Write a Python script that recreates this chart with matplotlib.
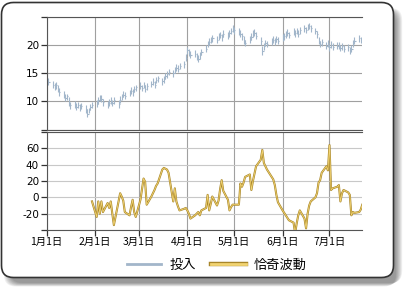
import matplotlib
matplotlib.use("Agg")
import matplotlib.pyplot as plt
import matplotlib.dates as mdates
from matplotlib.patches import FancyBboxPatch
from matplotlib.lines import Line2D
import matplotlib.patheffects as pe
import numpy as np
import pandas as pd

plt.rcParams['font.family'] = ['DejaVu Sans', 'Noto Sans CJK JP']

# daily bars, Jan 1 - Jul 22 (business days)
close = [13.8, 13.4, 13.0, 12.6, 12.9, 12.2, 11.6, 11.2, 10.6, 10.9, 9.8, 9.3, 9.5, 9.0, 9.4, 8.9, 9.2, 8.6, 7.8, 8.4, 9.0, 9.3,
         9.6, 10.2, 10.7, 10.5, 9.9, 9.4, 9.8, 10.1, 9.7, 10.2, 9.5, 10.3, 10.8, 11.2, 11.0, 11.5, 11.9, 11.6, 12.2, 12.5,
         12.8, 12.4, 12.9, 12.2, 12.7, 13.1, 13.5, 13.0, 13.8, 14.1, 13.6, 13.9, 14.5, 14.8, 15.3, 15.0, 15.6, 16.0, 15.8, 16.3,
         16.6, 17.8, 19.1, 18.6, 18.3, 18.5, 18.0, 17.6, 18.2, 18.8, 19.4, 20.2, 20.6, 20.9, 21.2, 21.0, 21.5, 21.8, 21.4, 22.0,
         21.7, 22.1, 22.5, 23.0, 22.6, 22.4, 22.0, 21.6, 20.9, 20.4, 21.0, 21.5, 22.0, 22.2, 21.7, 20.8, 19.0, 19.8, 20.4, 20.2,
         20.7, 21.0, 20.6, 21.1, 20.8, 21.3, 21.6, 21.9, 22.2, 21.8, 22.4, 22.1, 22.5, 22.0, 22.6, 23.0, 22.7, 23.2, 23.4, 23.0,
         22.5, 21.9, 20.8, 20.2, 20.5, 19.9, 20.3, 19.6, 20.1, 19.7, 19.9, 20.0, 19.5, 19.8, 19.4, 19.6, 19.0, 19.4, 20.3, 20.8,
         21.2, 20.9, 20.4]
high = [14.4, 14.1, 13.6, 13.3, 13.4, 12.9, 12.3, 11.8, 11.3, 11.4, 10.7, 9.9, 10.1, 9.7, 9.9, 9.6, 9.8, 9.3, 8.7, 8.9, 9.6, 9.9,
        10.2, 10.8, 11.2, 11.1, 10.5, 10.0, 10.4, 10.8, 10.3, 10.7, 10.2, 10.9, 11.3, 11.8, 11.6, 12.0, 12.5, 12.2, 12.8, 13.0,
        13.4, 13.0, 13.5, 12.9, 13.3, 13.7, 14.1, 13.7, 14.4, 14.6, 14.2, 14.5, 15.1, 15.4, 15.8, 15.6, 16.2, 16.6, 16.4, 16.9,
        17.2, 18.5, 19.7, 19.3, 18.9, 19.1, 18.6, 18.3, 18.8, 19.4, 20.0, 20.8, 21.2, 21.5, 21.8, 21.6, 22.1, 22.4, 22.0, 22.6,
        22.3, 22.7, 23.1, 23.6, 23.2, 23.0, 22.7, 22.2, 21.6, 21.0, 21.6, 22.1, 22.6, 22.8, 22.3, 21.5, 19.8, 20.4, 21.0, 20.8,
        21.3, 21.6, 21.2, 21.7, 21.4, 21.9, 22.2, 22.5, 22.8, 22.4, 23.0, 22.7, 23.1, 22.6, 23.2, 23.6, 23.3, 23.8, 24.0, 23.6,
        23.1, 22.5, 21.5, 20.8, 21.1, 20.5, 20.9, 20.2, 20.7, 20.3, 20.5, 20.6, 20.1, 20.4, 20.0, 20.2, 19.6, 20.0, 20.9, 21.4,
        21.8, 21.5, 21.0]
low = [13.3, 12.9, 12.4, 12.1, 12.2, 11.6, 11.0, 10.6, 10.1, 10.2, 9.2, 8.7, 8.9, 8.5, 8.8, 8.3, 8.6, 8.0, 7.2, 7.9, 8.4, 8.8,
       9.0, 9.6, 10.1, 9.9, 9.2, 8.8, 9.2, 9.5, 9.1, 9.6, 8.9, 9.7, 10.2, 10.7, 10.4, 10.9, 11.3, 11.0, 11.6, 11.9,
       12.2, 11.8, 12.3, 11.6, 12.1, 12.5, 12.9, 12.4, 13.2, 13.5, 13.0, 13.3, 13.9, 14.2, 14.7, 14.4, 15.0, 15.4, 15.2, 15.7,
       16.0, 17.2, 18.5, 18.0, 17.7, 17.9, 17.4, 17.0, 17.6, 18.2, 18.8, 19.6, 20.0, 20.3, 20.6, 20.4, 20.9, 21.2, 20.8, 21.4,
       21.1, 21.5, 21.9, 22.4, 22.0, 21.8, 21.4, 21.0, 20.2, 19.8, 20.4, 20.9, 21.4, 21.6, 21.1, 20.1, 18.3, 19.2, 19.8, 19.6,
       20.1, 20.4, 20.0, 20.5, 20.2, 20.7, 21.0, 21.3, 21.6, 21.2, 21.8, 21.5, 21.9, 21.4, 22.0, 22.4, 22.1, 22.6, 22.8, 22.4,
       21.9, 21.3, 20.2, 19.6, 19.9, 19.3, 19.7, 19.0, 19.5, 19.1, 19.3, 19.4, 18.9, 19.2, 18.8, 19.0, 18.4, 18.8, 19.7, 20.2,
       20.6, 20.3, 19.8]

# Chaikin oscillator, starts Jan 30
chaikin = [-5,
           -24, -5, -20, -5, -18, -7, -13, -5, -20, -34, -5, 5, 1, -4, -18, -22, -12, -3, -18, -24,
           -3, 10, 23, 19, -9, 1, 5, 9, 14, 17, 34, 36, 35, 34, 30, -5, 11, -5, -11, -16, -14, -13, -16,
           -20, -26, -22, -20, -18, -22, -16, -13, 3, -16, -8, 1, -10, -4, 10, 21, 8, -3, -16, -12, -9, -9,
           -9, 17, 13, 18, 25, 28, 9, 20, 29, 38, 46, 58, 42, 38, 34, 25, 22, 15, 3, -6, -16,
           -19, -22, -25, -28, -31, -44, -32, -22, -16, -26, -38, -20, -10, -5, 0, 5, 18, 21, 30, 38, 33, 64, 9,
           11, 13, 15, -5, 5, 9, 6, 3, -22, -18, -19, -18, -15, -9]

month_labels = ['1月1日', '2月1日', '3月1日', '4月1日', '5月1日', '6月1日', '7月1日']

dates = pd.bdate_range('2009-01-01', periods=len(close))
x = mdates.date2num(dates)
osc_x = x[-len(chaikin):]
month_ticks = mdates.date2num(pd.date_range('2009-01-01', periods=len(month_labels), freq='MS'))

W, H = 409, 291
fig = plt.figure(figsize=(W / 100, H / 100), dpi=100)

# rounded frame with soft shadow, kept behind the axes
for i in range(8, 0, -1):
    sh = FancyBboxPatch((3 + i * 0.9, 4 + i * 0.5), 392, 275, boxstyle="round,pad=0,rounding_size=12",
                        transform=None, facecolor='black', edgecolor='none', alpha=0.06, zorder=-3)
    fig.patches.append(sh)
frame = FancyBboxPatch((1.5, H - 277.5), 392, 275, boxstyle="round,pad=0,rounding_size=12",
                       transform=None, facecolor='white', edgecolor='#333333', linewidth=1.2, zorder=-2)
fig.patches.append(frame)

L, R = 46.7, 362.3
ax1 = fig.add_axes([L / W, (H - 129.5) / H, (R - L) / W, 112.5 / H])
ax2 = fig.add_axes([L / W, (H - 230) / H, (R - L) / W, 98 / H])

price_color = '#a2b6ca'
gold_edge = '#a8862a'
gold_fill = '#f2d472'
ax1.vlines(x, low, high, color=price_color, linewidth=0.8)
ax1.hlines(close, x, x + 0.8, color=price_color, linewidth=0.8)
ax1.set_ylim(5, 25)
ax1.set_yticks([5, 10, 15, 20, 25])
ax1.set_yticklabels(['', '10', '15', '20', ''])

ax2.plot(osc_x, chaikin, color=gold_edge, linewidth=1.5, solid_joinstyle='round')
ax2.plot(osc_x, chaikin, color=gold_fill, linewidth=0.6, solid_joinstyle='round')
ax2.set_ylim(-40, 80)
ax2.set_yticks([-40, -20, 0, 20, 40, 60, 80])
ax2.set_yticklabels(['', '-20', '0', '20', '40', '60', ''])

for ax, gcol in ((ax1, '#a0a0a0'), (ax2, '#c8c8c8')):
    ax.set_xlim(x[0], x[-1])
    ax.set_xticks(month_ticks)
    ax.grid(axis='y', color=gcol, linewidth=0.8)
    ax.grid(axis='x', color='#a0a0a0', linewidth=0.8)
    ax.set_axisbelow(True)
    for s in ('top', 'bottom', 'left'):
        ax.spines[s].set_color('#555555')
        ax.spines[s].set_linewidth(0.8)
    ax.spines['right'].set_visible(False)
    ax.tick_params(axis='y', direction='out', length=4, width=0.9, color='#333333',
                   labelsize=7.5, pad=1.5)
    ax.set_facecolor('none')

ax1.tick_params(axis='x', length=0, labelbottom=False)
ax2.set_xticklabels(month_labels, family=['Noto Sans CJK JP', 'DejaVu Sans'], fontsize=7.5)
ax2.tick_params(axis='x', direction='out', length=4, width=0.9, color='#333333', pad=1)

handles = [Line2D([], [], color=price_color, linewidth=2),
           Line2D([], [], color=gold_fill, linewidth=2,
                  path_effects=[pe.Stroke(linewidth=3.2, foreground=gold_edge), pe.Normal()])]
fig.legend(handles, ['投入', '恰奇波動'], loc='center', bbox_to_anchor=(0.53, 0.088), ncol=2,
           frameon=False, prop={'family': ['Noto Sans CJK JP', 'DejaVu Sans'], 'size': 9.5},
           handlelength=2.6, columnspacing=1.2, handletextpad=0.6)

fig.savefig('out.png', dpi=100)
